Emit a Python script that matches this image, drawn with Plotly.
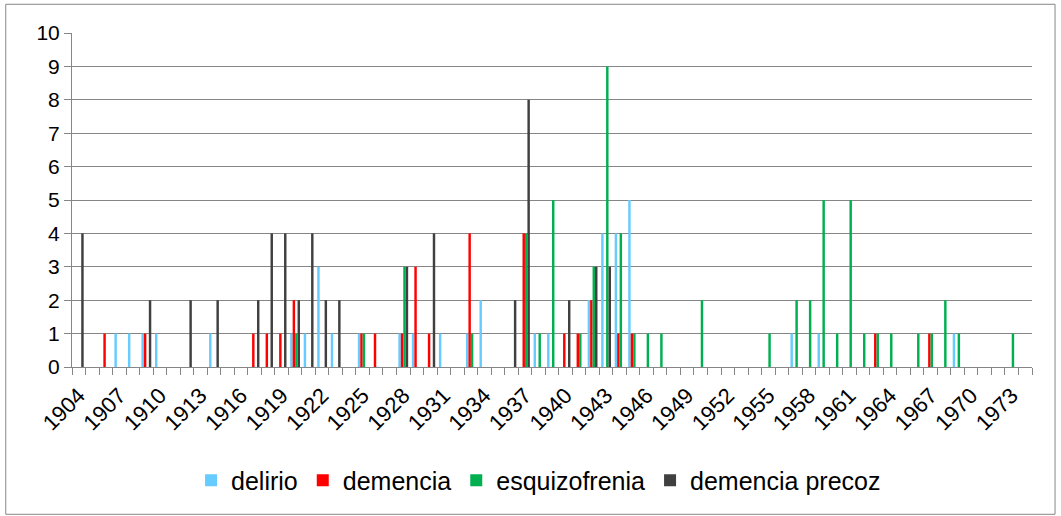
import plotly.graph_objects as go

years = list(range(1904, 1975))

# counts per year, 1904..1974
delirio = [
    0, 0, 0, 1, 1, 1, 1, 0, 0, 0,   # 1904-1913
    1, 0, 0, 0, 0, 0, 1, 1, 3, 1,   # 1914-1923
    0, 1, 0, 0, 1, 1, 0, 1, 0, 1,   # 1924-1933
    2, 0, 0, 0, 1, 1, 0, 0, 2, 4,   # 1934-1943
    4, 5, 0, 0, 0, 0, 0, 0, 0, 0,   # 1944-1953
    0, 0, 0, 1, 0, 1, 0, 0, 0, 0,   # 1954-1963
    0, 0, 0, 0, 0, 1, 0, 0, 0, 0,   # 1964-1973
    0,                              # 1974
]
demencia = [
    0, 0, 1, 0, 0, 1, 0, 0, 0, 0,
    0, 0, 0, 1, 1, 1, 2, 0, 0, 0,
    0, 1, 1, 0, 1, 3, 1, 0, 0, 4,
    0, 0, 0, 4, 0, 0, 1, 1, 2, 0,
    1, 1, 0, 0, 0, 0, 0, 0, 0, 0,
    0, 0, 0, 0, 0, 0, 0, 0, 0, 1,
    0, 0, 0, 1, 0, 0, 0, 0, 0, 0,
    0,
]
esquizofrenia = [
    0, 0, 0, 0, 0, 0, 0, 0, 0, 0,
    0, 0, 0, 0, 0, 0, 1, 0, 0, 0,
    0, 1, 0, 0, 3, 0, 0, 0, 0, 1,
    0, 0, 0, 4, 1, 5, 0, 1, 3, 9,
    4, 1, 1, 1, 0, 0, 2, 0, 0, 0,
    0, 1, 0, 2, 2, 5, 1, 5, 1, 1,
    1, 0, 1, 1, 2, 1, 0, 0, 0, 1,
    0,
]
demencia_precoz = [
    4, 0, 0, 0, 0, 2, 0, 0, 2, 0,
    2, 0, 0, 2, 4, 4, 2, 4, 2, 2,
    0, 0, 0, 0, 3, 0, 4, 0, 0, 0,
    0, 0, 2, 8, 0, 0, 2, 0, 3, 3,
    0, 0, 0, 0, 0, 0, 0, 0, 0, 0,
    0, 0, 0, 0, 0, 0, 0, 0, 0, 0,
    0, 0, 0, 0, 0, 0, 0, 0, 0, 0,
    0,
]

series = [
    ("delirio", delirio, "#66CCFF"),
    ("demencia", demencia, "#FF0000"),
    ("esquizofrenia", esquizofrenia, "#00B050"),
    ("demencia precoz", demencia_precoz, "#404040"),
]

fig = go.Figure()
for name, vals, color in series:
    fig.add_trace(go.Bar(x=years, y=vals, name=name,
                         marker=dict(color=color, line=dict(width=0))))

grid = "#868686"
fig.update_layout(
    width=1061, height=516,
    barmode="group", bargap=0.273, bargroupgap=0,
    plot_bgcolor="white", paper_bgcolor="white",
    margin=dict(l=72, r=29, t=33, b=149),
    font=dict(family="Liberation Sans, Arial, sans-serif", size=21, color="black"),
    showlegend=True,
    legend=dict(orientation="h", x=0.486, xanchor="center", y=-0.34, yanchor="middle",
                font=dict(size=25), traceorder="normal", itemwidth=30),
    shapes=[dict(type="rect", xref="paper", yref="paper",
                 x0=-0.069, x1=1.024, y0=-0.441, y1=1.086,
                 line=dict(color=grid, width=1))],
)
fig.update_xaxes(
    range=[1903.5, 1974.5], tickmode="linear", tick0=1904, dtick=3,
    tickangle=-45, ticks="", showgrid=False, zeroline=False,
    showline=True, linecolor=grid, linewidth=1,
    tickfont=dict(size=22), ticklabelstandoff=6,
    minor=dict(ticks="outside", tick0=1903.5, dtick=1, ticklen=7, tickcolor=grid, showgrid=False),
)
fig.update_yaxes(
    range=[0, 10], dtick=1, showgrid=True, gridcolor=grid, gridwidth=1,
    zeroline=False, showline=True, linecolor=grid, linewidth=1,
    ticks="outside", ticklen=7, tickcolor=grid,
)

# the page body has an 8px default margin; drop it so the figure sits at 0,0
fig.write_html("out.html", config={"displayModeBar": False},
               post_script="document.body.style.margin='0';")
